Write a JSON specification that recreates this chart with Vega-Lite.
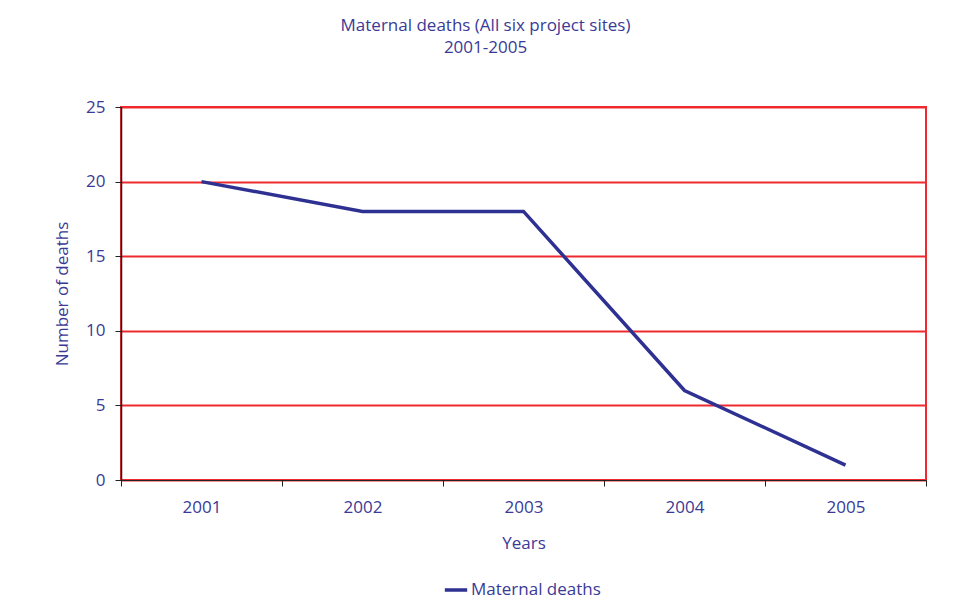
{
  "$schema": "https://vega.github.io/schema/vega-lite/v6.json",
  "width": 805,
  "height": 373,
  "autosize": {"type": "none"},
  "padding": {"left": 121, "top": 107, "right": 40, "bottom": 122},
  "background": "white",
  "title": {
    "text": ["Maternal deaths (All six project sites)", "2001-2005"],
    "anchor": "middle",
    "dx": -38,
    "offset": 41,
    "fontSize": 17,
    "fontWeight": "normal",
    "font": "Open Sans",
    "color": "#3a3a96",
    "lineHeight": 22
  },
  "data": {
    "values": [
      {"year": "2001", "deaths": 20, "series": "Maternal deaths"},
      {"year": "2002", "deaths": 18, "series": "Maternal deaths"},
      {"year": "2003", "deaths": 18, "series": "Maternal deaths"},
      {"year": "2004", "deaths": 6, "series": "Maternal deaths"},
      {"year": "2005", "deaths": 1, "series": "Maternal deaths"}
    ]
  },
  "config": {
    "view": {"stroke": "#ee2a2e", "strokeWidth": 2},
    "font": "Open Sans",
    "axis": {
      "labelFont": "Open Sans",
      "titleFont": "Open Sans",
      "labelFontSize": 17,
      "titleFontSize": 17,
      "titleFontWeight": "normal",
      "labelColor": "#3a3a96",
      "titleColor": "#3a3a96"
    }
  },
  "mark": {"type": "line", "strokeWidth": 3.5, "color": "#2e3192"},
  "encoding": {
    "x": {
      "field": "year",
      "type": "ordinal",
      "scale": {"paddingInner": 0, "paddingOuter": 0},
      "axis": {
        "title": "Years",
        "labelAngle": 0,
        "tickBand": "extent",
        "grid": false,
        "domainColor": "#222",
        "domainWidth": 1,
        "tickColor": "#222",
        "tickSize": 6,
        "labelPadding": 13,
        "titlePadding": 20
      }
    },
    "y": {
      "field": "deaths",
      "type": "quantitative",
      "scale": {"domain": [0, 25], "nice": false},
      "axis": {
        "title": "Number of deaths",
        "values": [0, 5, 10, 15, 20, 25],
        "grid": true,
        "gridColor": "#ee2a2e",
        "gridWidth": 2,
        "gridOpacity": 1,
        "domainColor": "#222",
        "domainWidth": 1.5,
        "tickColor": "#222",
        "tickSize": 6,
        "labelPadding": 10,
        "titlePadding": 14
      }
    },
    "color": {
      "field": "series",
      "type": "nominal",
      "scale": {"range": ["#2e3192"]},
      "legend": {
        "title": null,
        "orient": "none",
        "legendX": 322,
        "legendY": 470,
        "direction": "horizontal",
        "symbolType": "stroke",
        "symbolStrokeWidth": 3.5,
        "symbolSize": 500,
        "labelFontSize": 17,
        "labelFont": "Open Sans",
        "labelColor": "#3a3a96",
        "labelOffset": 2
      }
    }
  }
}
